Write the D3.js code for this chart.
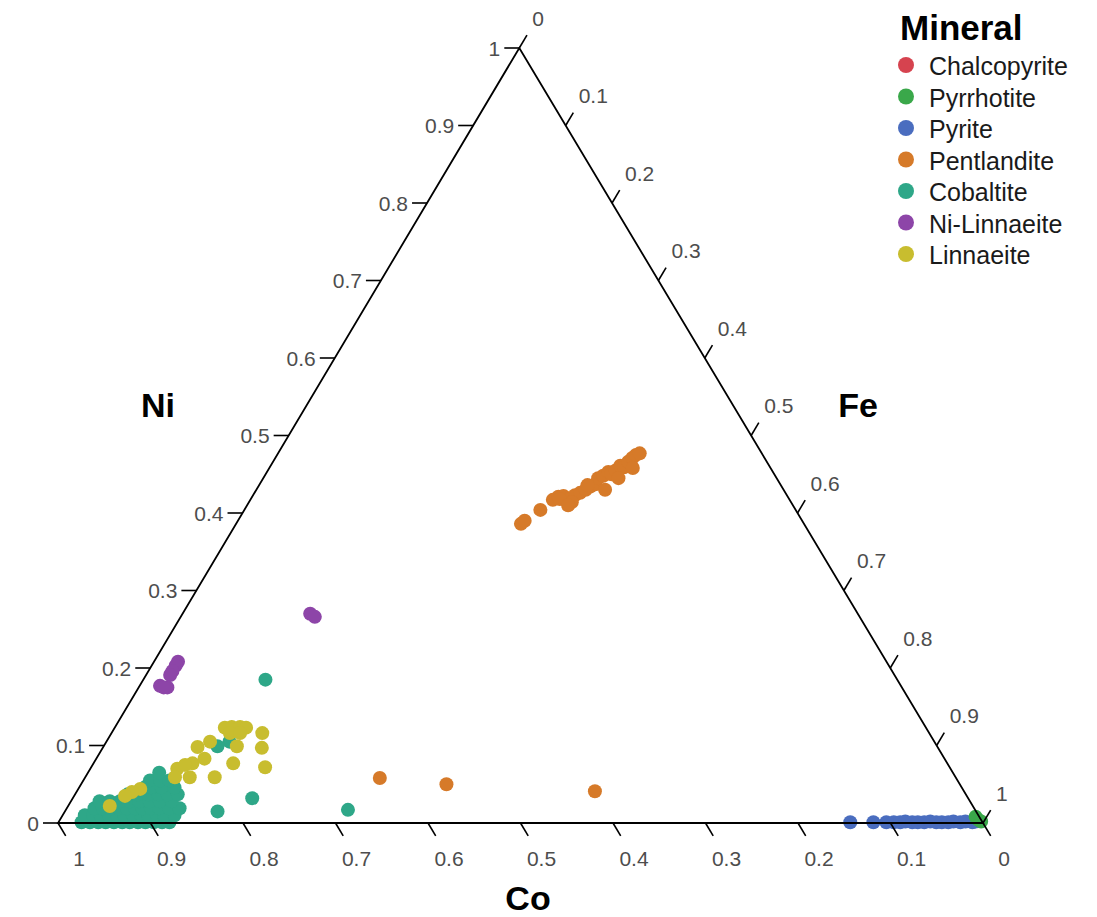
<!DOCTYPE html>
<html>
<head>
<meta charset="utf-8">
<script src="https://cdn.jsdelivr.net/npm/d3@7"></script>
<style>
  body { margin: 0; background: #fff; }
  text { font-family: "Liberation Sans", Arial, Helvetica, sans-serif; }
</style>
</head>
<body>
<div id="chart"></div>
<script>
// composition of each point: [Co, Ni, Fe]
var minerals = ["Chalcopyrite", "Pyrrhotite", "Pyrite", "Pentlandite", "Cobaltite", "Ni-Linnaeite", "Linnaeite"];
var mineralColors = ["#d6434f", "#3aa84a", "#4a6dbf", "#d67a29", "#2ea788", "#8d45a8", "#c8bd2f"];

var chalcopyrite = [];
var pyrrhotite = [[0.003, 0.004, 0.993], [0.001, 0.002, 0.997], [0.004, 0.008, 0.988]];
var pyrite = [
  [0.143, 0.001, 0.856], [0.118, 0.001, 0.881], [0.104, 0.001, 0.895], [0.096, 0.001, 0.903],
  [0.089, 0.001, 0.910], [0.083, 0.002, 0.915], [0.076, 0.001, 0.923], [0.070, 0.001, 0.929],
  [0.063, 0.001, 0.936], [0.056, 0.002, 0.942], [0.050, 0.001, 0.949], [0.044, 0.001, 0.955],
  [0.037, 0.001, 0.962], [0.031, 0.002, 0.967], [0.024, 0.001, 0.975], [0.018, 0.002, 0.980],
  [0.011, 0.001, 0.988], [0.007, 0.002, 0.991]
];
var pentlandite = [
  [0.306, 0.386, 0.308], [0.300, 0.390, 0.310], [0.276, 0.404, 0.320], [0.256, 0.417, 0.327],
  [0.248, 0.421, 0.331], [0.242, 0.422, 0.336], [0.241, 0.417, 0.342], [0.236, 0.419, 0.345],
  [0.229, 0.423, 0.348], [0.222, 0.426, 0.352], [0.214, 0.430, 0.356], [0.207, 0.434, 0.359],
  [0.200, 0.437, 0.363], [0.193, 0.445, 0.362], [0.186, 0.448, 0.366], [0.178, 0.453, 0.369],
  [0.176, 0.450, 0.374], [0.169, 0.455, 0.376], [0.161, 0.461, 0.378], [0.158, 0.459, 0.383],
  [0.150, 0.466, 0.384], [0.143, 0.471, 0.386], [0.137, 0.475, 0.388], [0.132, 0.477, 0.391],
  [0.149, 0.458, 0.393], [0.171, 0.445, 0.384], [0.237, 0.414, 0.349], [0.248, 0.418, 0.334],
  [0.243, 0.410, 0.347], [0.193, 0.430, 0.377], [0.209, 0.436, 0.355],
  [0.623, 0.058, 0.319], [0.555, 0.050, 0.395], [0.399, 0.041, 0.560]
];
var cobaltite = [
  [0.974, 0.001, 0.025], [0.965, 0.001, 0.034], [0.956, 0.001, 0.043], [0.948, 0.001, 0.051],
  [0.939, 0.001, 0.060], [0.930, 0.001, 0.069], [0.922, 0.001, 0.077], [0.913, 0.001, 0.086],
  [0.905, 0.001, 0.094], [0.896, 0.001, 0.103], [0.887, 0.001, 0.112], [0.879, 0.001, 0.120],
  [0.966, 0.010, 0.024], [0.957, 0.010, 0.033], [0.949, 0.010, 0.041], [0.940, 0.010, 0.050],
  [0.931, 0.010, 0.059], [0.923, 0.010, 0.067], [0.914, 0.010, 0.076], [0.905, 0.010, 0.085],
  [0.897, 0.010, 0.093], [0.888, 0.010, 0.102], [0.880, 0.010, 0.110], [0.869, 0.010, 0.121],
  [0.951, 0.019, 0.030], [0.942, 0.019, 0.039], [0.933, 0.019, 0.048], [0.925, 0.019, 0.056],
  [0.916, 0.019, 0.065], [0.907, 0.019, 0.074], [0.899, 0.019, 0.082], [0.890, 0.019, 0.091],
  [0.881, 0.019, 0.100], [0.870, 0.019, 0.111], [0.859, 0.019, 0.122],
  [0.941, 0.028, 0.031], [0.930, 0.028, 0.042], [0.919, 0.028, 0.053], [0.908, 0.028, 0.064],
  [0.898, 0.028, 0.074], [0.887, 0.028, 0.085], [0.876, 0.028, 0.096], [0.863, 0.028, 0.109],
  [0.906, 0.037, 0.057], [0.895, 0.037, 0.068], [0.884, 0.037, 0.079], [0.873, 0.037, 0.090],
  [0.863, 0.037, 0.100], [0.852, 0.037, 0.111],
  [0.883, 0.046, 0.071], [0.876, 0.046, 0.078], [0.865, 0.046, 0.089], [0.851, 0.046, 0.103],
  [0.873, 0.055, 0.072], [0.862, 0.055, 0.083], [0.852, 0.055, 0.093], [0.858, 0.065, 0.077],
  [0.683, 0.185, 0.132], [0.762, 0.105, 0.133], [0.778, 0.099, 0.123],
  [0.820, 0.015, 0.165], [0.774, 0.032, 0.194], [0.678, 0.017, 0.305]
];
var niLinnaeite = [
  [0.592, 0.270, 0.138], [0.589, 0.266, 0.145], [0.766, 0.208, 0.026], [0.771, 0.203, 0.026],
  [0.778, 0.196, 0.026], [0.783, 0.191, 0.026], [0.801, 0.177, 0.022], [0.794, 0.175, 0.031],
  [0.798, 0.175, 0.027]
];
var linnaeite = [
  [0.758, 0.123, 0.119], [0.750, 0.124, 0.126], [0.741, 0.124, 0.135], [0.735, 0.123, 0.142],
  [0.756, 0.116, 0.128], [0.745, 0.116, 0.139], [0.721, 0.116, 0.163], [0.731, 0.097, 0.172],
  [0.740, 0.072, 0.188], [0.800, 0.098, 0.102], [0.783, 0.105, 0.112], [0.757, 0.099, 0.144],
  [0.816, 0.077, 0.107], [0.800, 0.083, 0.117], [0.772, 0.077, 0.151], [0.801, 0.059, 0.140],
  [0.836, 0.070, 0.094], [0.844, 0.059, 0.097], [0.828, 0.059, 0.113], [0.825, 0.075, 0.100],
  [0.889, 0.044, 0.067], [0.900, 0.040, 0.060], [0.910, 0.035, 0.055], [0.933, 0.022, 0.045]
];
var tickValues = [0, 0.1, 0.2, 0.3, 0.4, 0.5, 0.6, 0.7, 0.8, 0.9, 1];
var tickLabels = ["0", "0.1", "0.2", "0.3", "0.4", "0.5", "0.6", "0.7", "0.8", "0.9", "1"];

var width = 1097, height = 917;
var left = [58, 823], right = [983, 823], apex = [519.3, 48];

var svg = d3.select("#chart").append("svg")
  .attr("width", width)
  .attr("height", height);

var xScale = d3.scaleLinear().domain([0, 1]).range([left[0], right[0]]);
var yScale = d3.scaleLinear().domain([0, 1]).range([left[1], apex[1]]);
var apexShift = (apex[0] - left[0]) / (right[0] - left[0]);

// barycentric -> screen
function proj(co, ni, fe) {
  return [xScale(fe + ni * apexShift), yScale(ni)];
}
function unit(a, b) {
  var dx = b[0] - a[0], dy = b[1] - a[1], n = Math.sqrt(dx * dx + dy * dy);
  return [dx / n, dy / n];
}

// points, drawn first so the frame lies on top
var groups = [
  {name: "Chalcopyrite", data: chalcopyrite},
  {name: "Pyrite", data: pyrite},
  {name: "Pyrrhotite", data: pyrrhotite},
  {name: "Pentlandite", data: pentlandite},
  {name: "Cobaltite", data: cobaltite},
  {name: "Ni-Linnaeite", data: niLinnaeite},
  {name: "Linnaeite", data: linnaeite}
];
var color = d3.scaleOrdinal().domain(minerals).range(mineralColors);

groups.forEach(function(g) {
  svg.append("g").selectAll("circle")
    .data(g.data)
    .enter()
    .append("circle")
    .attr("cx", function(d) { return proj(d[0], d[1], d[2])[0]; })
    .attr("cy", function(d) { return proj(d[0], d[1], d[2])[1]; })
    .attr("r", 7)
    .attr("fill", color(g.name));
});

// frame
svg.append("path")
  .attr("d", "M" + left + "L" + right + "L" + apex + "Z")
  .attr("fill", "none")
  .attr("stroke", "#000")
  .attr("stroke-width", 1.8);

var tickLen = 15;
var axes = [
  {name: "Ni", pos: function(v) { return proj(1 - v, v, 0); }, dir: [-1, 0]},
  {name: "Fe", pos: function(v) { return proj(0, 1 - v, v); }, dir: unit(left, apex)},
  {name: "Co", pos: function(v) { return proj(v, 0, 1 - v); }, dir: unit(apex, right)}
];

axes.forEach(function(ax) {
  var g = svg.append("g").attr("class", "axis-" + ax.name);
  g.selectAll("line")
    .data(tickValues)
    .enter()
    .append("line")
    .attr("x1", function(v) { return ax.pos(v)[0]; })
    .attr("y1", function(v) { return ax.pos(v)[1]; })
    .attr("x2", function(v) { return ax.pos(v)[0] + ax.dir[0] * tickLen; })
    .attr("y2", function(v) { return ax.pos(v)[1] + ax.dir[1] * tickLen; })
    .attr("stroke", "#000")
    .attr("stroke-width", 1.6);

  var labels = g.selectAll("text")
    .data(tickValues)
    .enter()
    .append("text")
    .attr("font-size", 21)
    .attr("fill", "#4d4d4d")
    .attr("dominant-baseline", "central")
    .text(function(v, i) { return tickLabels[i]; });

  if (ax.name == "Ni") {
    labels.attr("x", function(v) { return ax.pos(v)[0] - tickLen - 4; })
      .attr("y", function(v) { return ax.pos(v)[1]; })
      .attr("text-anchor", "end");
  } else if (ax.name == "Fe") {
    labels.attr("x", function(v) { return ax.pos(v)[0] + 13; })
      .attr("y", function(v) { return ax.pos(v)[1] - 30; })
      .attr("text-anchor", "start");
  } else {
    labels.attr("x", function(v) { return ax.pos(v)[0] + 21; })
      .attr("y", function(v) { return ax.pos(v)[1] + 35; })
      .attr("text-anchor", "middle");
  }
});

// axis titles
var titles = [
  {t: "Ni", x: 158, y: 405},
  {t: "Fe", x: 858, y: 405},
  {t: "Co", x: 528, y: 898}
];
svg.selectAll(".axis-title")
  .data(titles)
  .enter()
  .append("text")
  .attr("class", "axis-title")
  .attr("x", function(d) { return d.x; })
  .attr("y", function(d) { return d.y; })
  .attr("text-anchor", "middle")
  .attr("dominant-baseline", "central")
  .attr("font-size", 34)
  .attr("font-weight", "bold")
  .attr("fill", "#000")
  .text(function(d) { return d.t; });

// legend
var legend = svg.append("g").attr("transform", "translate(900,0)");
legend.append("text")
  .attr("x", 0)
  .attr("y", 40)
  .attr("font-size", 35)
  .attr("font-weight", "bold")
  .attr("fill", "#000")
  .text("Mineral");

var item = legend.selectAll(".item")
  .data(minerals)
  .enter()
  .append("g")
  .attr("class", "item")
  .attr("transform", function(d, i) { return "translate(0," + (65 + i * 31.5) + ")"; });
item.append("circle")
  .attr("cx", 6)
  .attr("cy", 0)
  .attr("r", 8)
  .attr("fill", function(d) { return color(d); });
item.append("text")
  .attr("x", 29)
  .attr("y", 1)
  .attr("dominant-baseline", "central")
  .attr("font-size", 25)
  .attr("fill", "#1a1a1a")
  .text(function(d) { return d; });
</script>
</body>
</html>
